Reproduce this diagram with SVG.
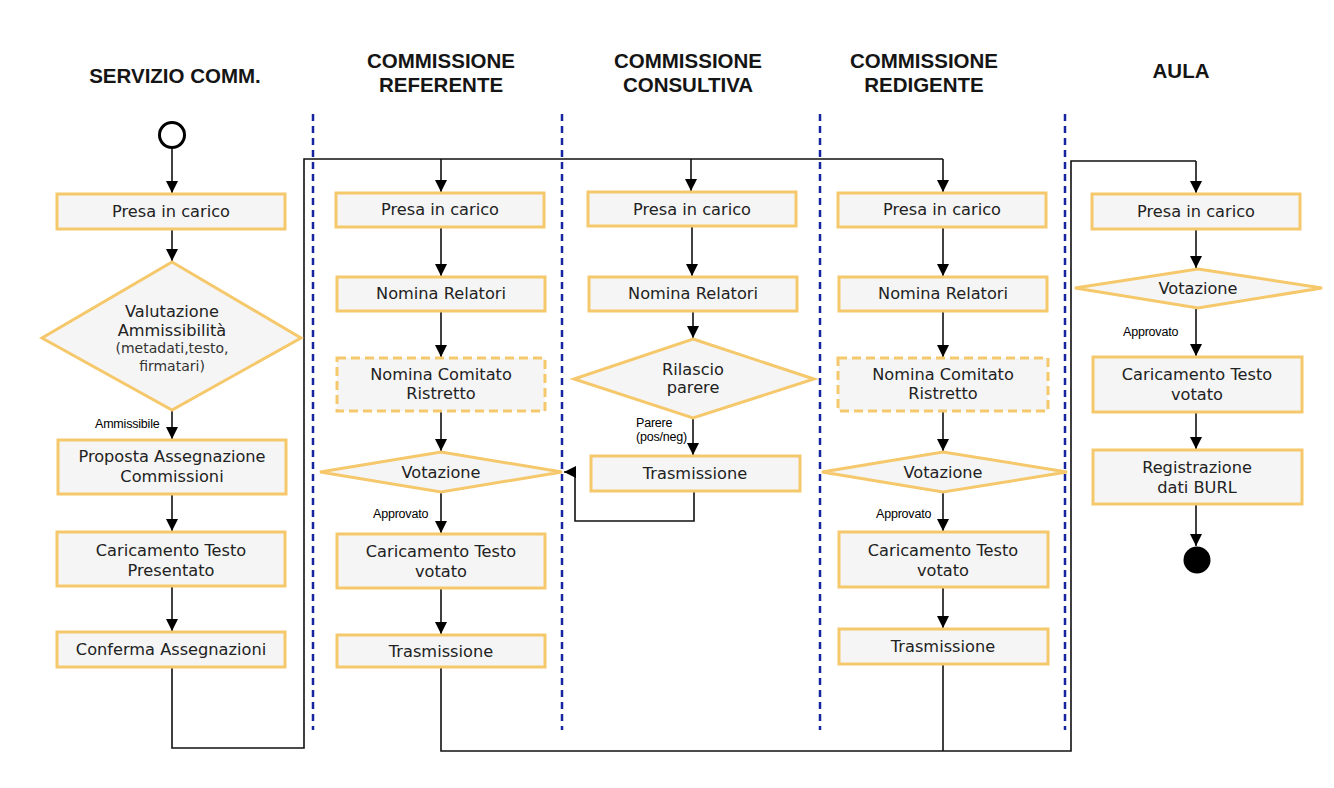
<svg xmlns="http://www.w3.org/2000/svg" width="1334" height="788" viewBox="0 0 1334 788">
  <style>
    .hdr { font-family: "Liberation Sans", Arial, sans-serif; font-weight: bold; font-size: 20.5px; fill: #151515; text-anchor: middle; }
    .box { fill: #f5f5f5; stroke: #f6c86c; stroke-width: 3; }
    .dash { stroke-dasharray: 9 5; }
    .lbl { font-family: "DejaVu Sans", Verdana, sans-serif; font-size: 16.2px; fill: #222; text-anchor: middle; }
    .sm { font-size: 14px; fill: #333; }
    .note { font-family: "Liberation Sans", Arial, sans-serif; font-size: 12.5px; fill: #000; letter-spacing: -0.2px; }
    .lane { stroke: #1624a0; stroke-width: 2.5; stroke-dasharray: 7 5; fill: none; }
    .flow { stroke: #111; stroke-width: 1.6; fill: none; }
    .arr { marker-end: url(#ah); }
  </style>
  <defs>
    <marker id="ah" markerUnits="userSpaceOnUse" markerWidth="12" markerHeight="12" refX="10" refY="5" viewBox="0 0 10 10" orient="auto">
      <path d="M0,0 L10,5 L0,10 z" fill="#000"/>
    </marker>
  </defs>
  <rect width="1334" height="788" fill="#fff"/>

  <!-- swimlane headers -->
  <g id="headers">
    <text class="hdr" x="175" y="83">SERVIZIO COMM.</text>
    <text class="hdr" x="441" y="68">COMMISSIONE</text>
    <text class="hdr" x="441" y="92">REFERENTE</text>
    <text class="hdr" x="688" y="68">COMMISSIONE</text>
    <text class="hdr" x="688" y="92">CONSULTIVA</text>
    <text class="hdr" x="924" y="68">COMMISSIONE</text>
    <text class="hdr" x="924" y="92">REDIGENTE</text>
    <text class="hdr" x="1181" y="78">AULA</text>
  </g>

  <!-- swimlane separators -->
  <g id="lanes">
    <line class="lane" x1="313" y1="114" x2="313" y2="730"/>
    <line class="lane" x1="562" y1="114" x2="562" y2="730"/>
    <line class="lane" x1="820" y1="114" x2="820" y2="730"/>
    <line class="lane" x1="1065" y1="114" x2="1065" y2="730"/>
  </g>

  <!-- connectors -->
  <g id="connectors">
    <!-- Servizio Comm. -->
    <line class="flow arr" x1="172" y1="149" x2="172" y2="193"/>
    <line class="flow arr" x1="172" y1="230" x2="172" y2="261"/>
    <line class="flow arr" x1="172" y1="410" x2="172" y2="439"/>
    <line class="flow arr" x1="172" y1="495" x2="172" y2="531"/>
    <line class="flow arr" x1="172" y1="587" x2="172" y2="631"/>
    <polyline class="flow" points="172,668 172,748 304,748 304,159 943,159"/>
    <line class="flow arr" x1="441" y1="159" x2="441" y2="192"/>
    <line class="flow arr" x1="691" y1="159" x2="691" y2="191"/>
    <line class="flow arr" x1="943" y1="159" x2="943" y2="192"/>
    <!-- Commissione referente -->
    <line class="flow arr" x1="441" y1="228" x2="441" y2="276"/>
    <line class="flow arr" x1="441" y1="312" x2="441" y2="357"/>
    <line class="flow arr" x1="441" y1="412" x2="441" y2="451"/>
    <line class="flow arr" x1="441" y1="492" x2="441" y2="533"/>
    <line class="flow arr" x1="441" y1="589" x2="441" y2="634"/>
    <polyline class="flow" points="441,668 441,751 1071,751 1071,161 1196,161"/>
    <line class="flow arr" x1="1196" y1="161" x2="1196" y2="193"/>
    <!-- Commissione consultiva -->
    <line class="flow arr" x1="692" y1="227" x2="692" y2="276"/>
    <line class="flow arr" x1="693" y1="312" x2="693" y2="338"/>
    <line class="flow arr" x1="693" y1="418" x2="693" y2="455"/>
    <polyline class="flow arr" points="694,492 694,521 575,521 575,472 564,472"/>
    <!-- Commissione redigente -->
    <line class="flow arr" x1="943" y1="228" x2="943" y2="276"/>
    <line class="flow arr" x1="943" y1="312" x2="943" y2="357"/>
    <line class="flow arr" x1="943" y1="412" x2="943" y2="451"/>
    <line class="flow arr" x1="943" y1="492" x2="943" y2="531"/>
    <line class="flow arr" x1="943" y1="588" x2="943" y2="628"/>
    <line class="flow" x1="943" y1="665" x2="943" y2="751"/>
    <!-- Aula -->
    <line class="flow arr" x1="1196" y1="230" x2="1196" y2="268"/>
    <line class="flow arr" x1="1196" y1="308" x2="1196" y2="356"/>
    <line class="flow arr" x1="1196" y1="413" x2="1196" y2="449"/>
    <line class="flow arr" x1="1196" y1="505" x2="1196" y2="546"/>
  </g>

  <!-- edge labels -->
  <g id="edge-labels">
    <text class="note" x="95" y="428">Ammissibile</text>
    <text class="note" x="373" y="518">Approvato</text>
    <text class="note" x="636" y="427">Parere</text>
    <text class="note" x="636" y="441">(pos/neg)</text>
    <text class="note" x="876" y="518">Approvato</text>
    <text class="note" x="1123" y="336">Approvato</text>
  </g>

  <!-- Servizio Comm. nodes -->
  <g id="sc-start"><circle cx="172" cy="135" r="12.5" fill="#fff" stroke="#000" stroke-width="3"/></g>
  <g id="sc-presa">
    <rect class="box" x="57" y="194" width="228" height="35"/>
    <text class="lbl" x="171" y="217">Presa in carico</text>
  </g>
  <g id="sc-valutazione">
    <polygon class="box" points="172,262 301,338 172,410 42,338"/>
    <text class="lbl" x="172" y="317">Valutazione</text>
    <text class="lbl" x="172" y="336">Ammissibilità</text>
    <text class="lbl sm" x="172" y="353">(metadati,testo,</text>
    <text class="lbl sm" x="172" y="371">firmatari)</text>
  </g>
  <g id="sc-proposta">
    <rect class="box" x="58" y="440" width="228" height="54"/>
    <text class="lbl" x="172" y="462">Proposta Assegnazione</text>
    <text class="lbl" x="172" y="482">Commissioni</text>
  </g>
  <g id="sc-caricamento">
    <rect class="box" x="57" y="532" width="228" height="54"/>
    <text class="lbl" x="171" y="556">Caricamento Testo</text>
    <text class="lbl" x="171" y="576">Presentato</text>
  </g>
  <g id="sc-conferma">
    <rect class="box" x="57" y="632" width="228" height="35"/>
    <text class="lbl" x="171" y="655">Conferma Assegnazioni</text>
  </g>

  <!-- Commissione referente nodes -->
  <g id="ref-presa">
    <rect class="box" x="336" y="193" width="208" height="34"/>
    <text class="lbl" x="440" y="215">Presa in carico</text>
  </g>
  <g id="ref-relatori">
    <rect class="box" x="337" y="277" width="208" height="34"/>
    <text class="lbl" x="441" y="299">Nomina Relatori</text>
  </g>
  <g id="ref-comitato">
    <rect class="box dash" x="337" y="358" width="208" height="53"/>
    <text class="lbl" x="441" y="380">Nomina Comitato</text>
    <text class="lbl" x="441" y="399">Ristretto</text>
  </g>
  <g id="ref-votazione">
    <polygon class="box" points="441,452 562,472 441,492 320,472"/>
    <text class="lbl" x="441" y="478">Votazione</text>
  </g>
  <g id="ref-caricamento">
    <rect class="box" x="337" y="534" width="208" height="54"/>
    <text class="lbl" x="441" y="557">Caricamento Testo</text>
    <text class="lbl" x="441" y="577">votato</text>
  </g>
  <g id="ref-trasmissione">
    <rect class="box" x="337" y="635" width="208" height="32"/>
    <text class="lbl" x="441" y="657">Trasmissione</text>
  </g>

  <!-- Commissione consultiva nodes -->
  <g id="con-presa">
    <rect class="box" x="588" y="192" width="208" height="34"/>
    <text class="lbl" x="692" y="215">Presa in carico</text>
  </g>
  <g id="con-relatori">
    <rect class="box" x="589" y="277" width="208" height="34"/>
    <text class="lbl" x="693" y="299">Nomina Relatori</text>
  </g>
  <g id="con-parere">
    <polygon class="box" points="693,339 814,379 693,418 574,379"/>
    <text class="lbl" x="693" y="375">Rilascio</text>
    <text class="lbl" x="693" y="393">parere</text>
  </g>
  <g id="con-trasmissione">
    <rect class="box" x="591" y="456" width="209" height="35"/>
    <text class="lbl" x="695" y="479">Trasmissione</text>
  </g>

  <!-- Commissione redigente nodes -->
  <g id="red-presa">
    <rect class="box" x="838" y="193" width="208" height="34"/>
    <text class="lbl" x="942" y="215">Presa in carico</text>
  </g>
  <g id="red-relatori">
    <rect class="box" x="839" y="277" width="208" height="34"/>
    <text class="lbl" x="943" y="299">Nomina Relatori</text>
  </g>
  <g id="red-comitato">
    <rect class="box dash" x="838" y="358" width="210" height="53"/>
    <text class="lbl" x="943" y="380">Nomina Comitato</text>
    <text class="lbl" x="943" y="399">Ristretto</text>
  </g>
  <g id="red-votazione">
    <polygon class="box" points="943,452 1067,472 943,492 822,472"/>
    <text class="lbl" x="943" y="478">Votazione</text>
  </g>
  <g id="red-caricamento">
    <rect class="box" x="839" y="532" width="209" height="55"/>
    <text class="lbl" x="943" y="556">Caricamento Testo</text>
    <text class="lbl" x="943" y="576">votato</text>
  </g>
  <g id="red-trasmissione">
    <rect class="box" x="839" y="629" width="209" height="35"/>
    <text class="lbl" x="943" y="652">Trasmissione</text>
  </g>

  <!-- Aula nodes -->
  <g id="aula-presa">
    <rect class="box" x="1092" y="194" width="208" height="35"/>
    <text class="lbl" x="1196" y="217">Presa in carico</text>
  </g>
  <g id="aula-votazione">
    <polygon class="box" points="1198,269 1322,288 1198,308 1075,288"/>
    <text class="lbl" x="1198" y="294">Votazione</text>
  </g>
  <g id="aula-caricamento">
    <rect class="box" x="1093" y="357" width="209" height="55"/>
    <text class="lbl" x="1197" y="380">Caricamento Testo</text>
    <text class="lbl" x="1197" y="400">votato</text>
  </g>
  <g id="aula-burl">
    <rect class="box" x="1093" y="450" width="209" height="54"/>
    <text class="lbl" x="1197" y="473">Registrazione</text>
    <text class="lbl" x="1197" y="493">dati BURL</text>
  </g>
  <g id="aula-end"><circle cx="1197" cy="560" r="13.5" fill="#000"/></g>
</svg>
